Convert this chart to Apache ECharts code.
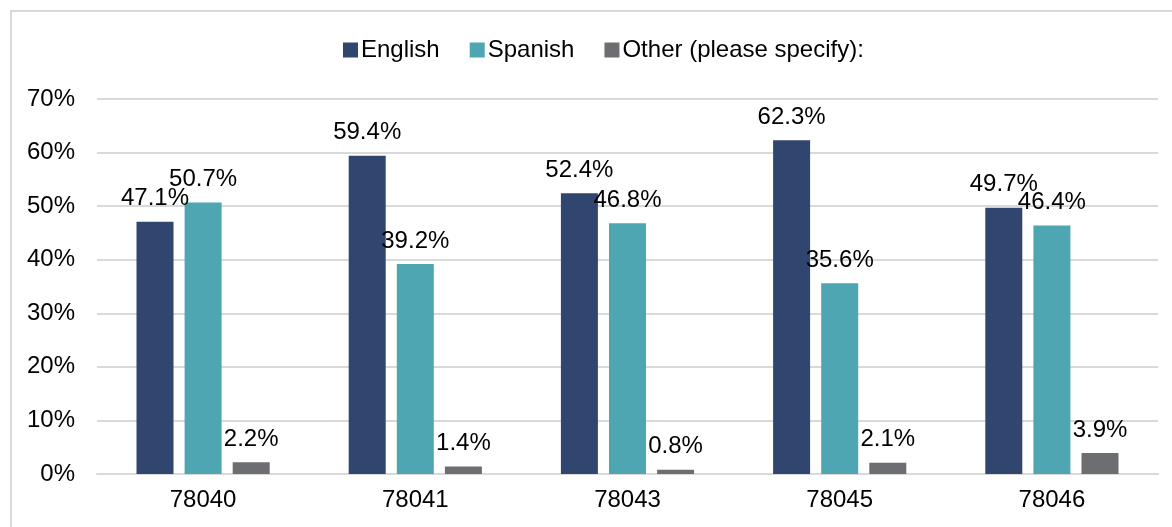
<!DOCTYPE html>
<html>
<head>
<meta charset="utf-8">
<script src="https://cdn.jsdelivr.net/npm/echarts@6/dist/echarts.min.js"></script>
<style>
html,body{margin:0;padding:0;background:#fff;}
#chart{width:1172px;height:527px;}
</style>
</head>
<body>
<div id="chart"></div>
<script>
const categories = ['78040', '78041', '78043', '78045', '78046'];
const english = [47.1, 59.4, 52.4, 62.3, 49.7];
const spanish = [50.7, 39.2, 46.8, 35.6, 46.4];
const other = [2.2, 1.4, 0.8, 2.1, 3.9];
const seriesNames = ['English', 'Spanish', 'Other (please specify):'];
const colors = ['#30466E', '#4DA6B2', '#6C6E72'];

const font = 'Liberation Sans, Arial, sans-serif';
const chart = echarts.init(document.getElementById('chart'), null, {renderer: 'canvas'});

function mkSeries(name, data, color) {
  return {
    name: name,
    type: 'bar',
    data: data,
    barWidth: 37,
    barGap: '30%',
    itemStyle: {color: color},
    label: {
      show: true,
      position: 'top',
      distance: 11,
      formatter: p => p.value.toFixed(1) + '%',
      color: '#000',
      fontSize: 24,
      fontFamily: font
    },
    emphasis: {disabled: true},
    animation: false
  };
}

chart.setOption({
  animation: false,
  textStyle: {fontFamily: font},
  graphic: [{
    type: 'rect',
    shape: {x: 11, y: 11, width: 1300, height: 700},
    style: {fill: 'none', stroke: '#D9D9D9', lineWidth: 2},
    silent: true
  }],
  legend: {
    top: 33,
    left: 338,
    itemWidth: 15,
    itemHeight: 15,
    itemGap: 30,
    icon: 'rect',
    textStyle: {fontSize: 24, color: '#000', fontFamily: font, padding: [0, 0, 0, -2]},
    data: seriesNames
  },
  grid: {left: 97, right: 14, top: 99, bottom: 53, containLabel: false},
  xAxis: {
    type: 'category',
    data: categories,
    axisLine: {lineStyle: {color: '#D9D9D9', width: 2}},
    axisTick: {show: false},
    axisLabel: {fontSize: 24, color: '#000', margin: 14, fontFamily: font}
  },
  yAxis: {
    type: 'value',
    min: 0,
    max: 70,
    interval: 10,
    axisLine: {show: false},
    axisTick: {show: false},
    splitLine: {lineStyle: {color: '#D9D9D9', width: 2}},
    axisLabel: {fontSize: 24, color: '#000', margin: 22, formatter: '{value}%', fontFamily: font}
  },
  series: [
    mkSeries(seriesNames[0], english, colors[0]),
    mkSeries(seriesNames[1], spanish, colors[1]),
    mkSeries(seriesNames[2], other, colors[2])
  ]
});
</script>
</body>
</html>
